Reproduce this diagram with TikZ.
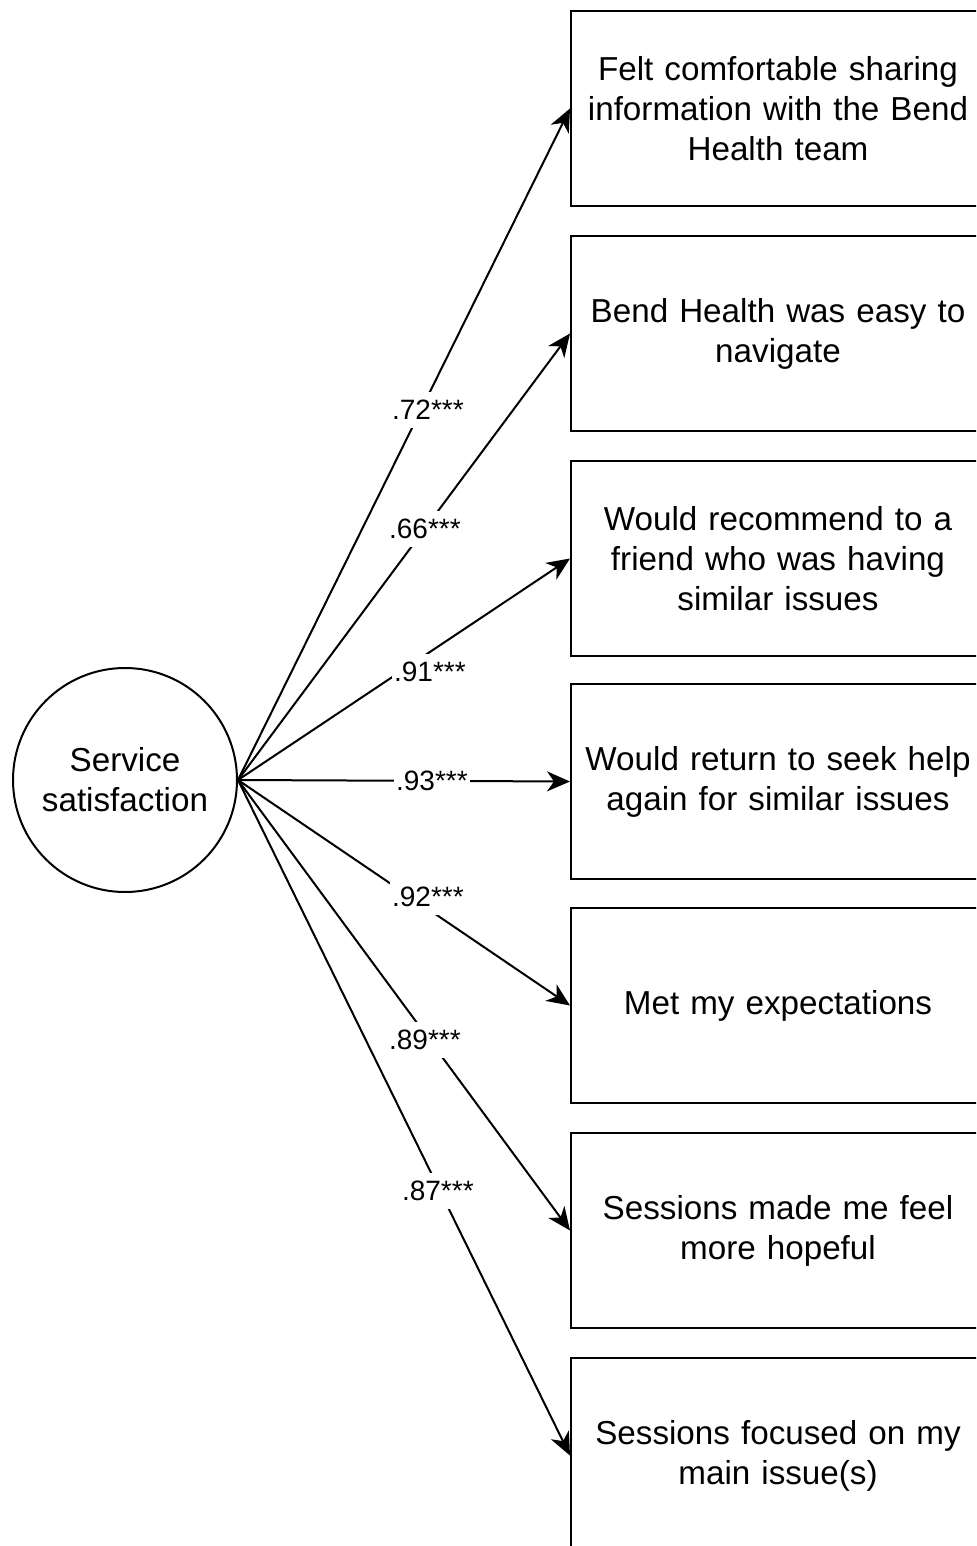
\documentclass[tikz,border=0pt]{standalone}
\usepackage{fontspec}
\setmainfont{Liberation Sans}
\usetikzlibrary{arrows.meta}
\tikzset{
  item/.style={draw=black, line width=1pt, anchor=north west, minimum width=207pt, minimum height=97.5pt, text width=200pt, align=center, inner sep=0pt, font=\fontsize{16.6}{20}\selectfont},
  factor/.style={draw=black, circle, line width=1pt, minimum size=112pt, align=center, inner sep=0pt, font=\fontsize{16.6}{20}\selectfont},
  loading/.style={draw=black, line width=1pt, -{Stealth[length=11.5pt, width=10pt, inset=3.5pt]}},
  coef/.style={fill=white, inner xsep=1pt, inner ysep=4pt, font=\fontsize{14}{16}\selectfont}
}
\begin{document}
\begin{tikzpicture}[x=0.5pt, y=-0.5pt]
    \clip (0,0) rectangle (976,1546);
    \node[factor] (sat) at (125,780) {Service\\satisfaction};
    \node[item] (b1) at (570,10) {Felt comfortable sharing\\information with the Bend\\Health team};
    \node[item] (b2) at (570,235) {Bend Health was easy to\\navigate};
    \node[item] (b3) at (570,460) {Would recommend to a\\friend who was having\\similar issues};
    \node[item] (b4) at (570,683) {Would return to seek help\\again for similar issues};
    \node[item] (b5) at (570,907) {Met my expectations};
    \node[item] (b6) at (570,1132) {Sessions made me feel\\more hopeful};
    \node[item] (b7) at (570,1357) {Sessions focused on my\\main issue(s)};
    % loadings
    \draw[loading] (sat.east) -- node[coef, pos=0.572, yshift=-7pt] {.72***} (b1.west);
    \draw[loading] (sat.east) -- node[coef, pos=0.563] {.66***} (b2.west);
    \draw[loading] (sat.east) -- node[coef, pos=0.578, yshift=-10pt] {.91***} (b3.west);
    \draw[loading] (sat.east) -- node[coef, pos=0.584] {.93***} (b4.west);
    \draw[loading] (sat.east) -- node[coef, pos=0.572, yshift=6pt] {.92***} (b5.west);
    \draw[loading] (sat.east) -- node[coef, pos=0.563, yshift=-3pt] {.89***} (b6.west);
    \draw[loading] (sat.east) -- node[coef, pos=0.602, yshift=-2pt] {.87***} (b7.west);
\end{tikzpicture}
\end{document}
